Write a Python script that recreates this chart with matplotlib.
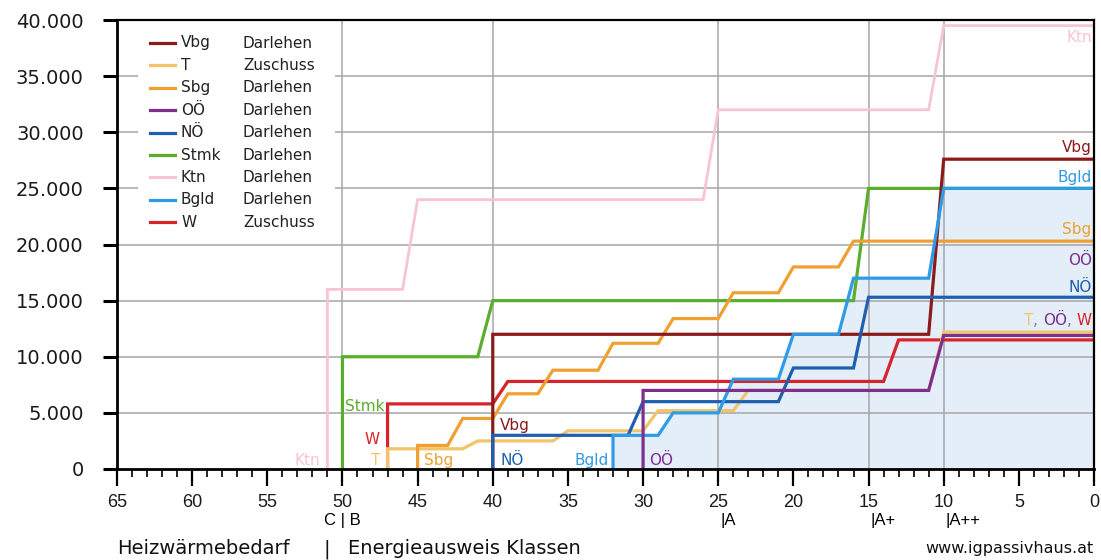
import matplotlib
matplotlib.use("Agg")
import matplotlib.pyplot as plt
from matplotlib.ticker import MultipleLocator, FixedLocator
import matplotlib.transforms as mtransforms

plt.rcParams['font.family'] = ['DejaVu Sans']

# ---------------- data ----------------
names = ["Vbg", "T", "Sbg", "OÖ", "NÖ", "Stmk", "Ktn", "Bgld", "W"]
kinds = ["Darlehen", "Zuschuss", "Darlehen", "Darlehen", "Darlehen",
         "Darlehen", "Darlehen", "Darlehen", "Zuschuss"]
colors = {"Vbg": "#8B1A1A", "T": "#F2C46A", "Sbg": "#F0A030", "OÖ": "#7E2F8E",
          "NÖ": "#1F5FAF", "Stmk": "#5AAE2E", "Ktn": "#F7C5D2", "Bgld": "#2E9BE6",
          "W": "#D7232A"}

# HWB (kWh/m²a) vs. funding amount (EUR)
vbg_x = [40, 40, 11, 10, 0]
vbg_y = [0, 12000, 12000, 27600, 27600]
t_x = [47, 47, 42, 41, 36, 35, 30, 29, 24, 23, 11, 10, 0]
t_y = [0, 1800, 1800, 2500, 2500, 3400, 3400, 5200, 5200, 7000, 7000, 12200, 12200]
sbg_x = [45, 45, 43, 42, 40, 39, 37, 36, 33, 32, 29, 28, 25, 24, 21, 20, 17, 16, 0]
sbg_y = [0, 2100, 2100, 4500, 4500, 6700, 6700, 8800, 8800, 11200, 11200, 13400,
         13400, 15700, 15700, 18000, 18000, 20300, 20300]
ooe_x = [30, 30, 11, 10, 0]
ooe_y = [0, 7000, 7000, 11900, 11900]
noe_x = [40, 40, 31, 30, 21, 20, 16, 15, 0]
noe_y = [0, 3000, 3000, 6000, 6000, 9000, 9000, 15300, 15300]
stmk_x = [50, 50, 41, 40, 16, 15, 0]
stmk_y = [0, 10000, 10000, 15000, 15000, 25000, 25000]
ktn_x = [51, 51, 46, 45, 26, 25, 11, 10, 0]
ktn_y = [0, 16000, 16000, 24000, 24000, 32000, 32000, 39500, 39500]
bgld_x = [32, 32, 29, 28, 25, 24, 21, 20, 17, 16, 11, 10, 0]
bgld_y = [0, 3000, 3000, 5000, 5000, 8000, 8000, 12000, 12000, 17000, 17000, 25000, 25000]
w_x = [47, 47, 40, 39, 14, 13, 0]
w_y = [0, 5800, 5800, 7800, 7800, 11500, 11500]

series = {"Vbg": (vbg_x, vbg_y), "T": (t_x, t_y), "Sbg": (sbg_x, sbg_y),
          "OÖ": (ooe_x, ooe_y), "NÖ": (noe_x, noe_y), "Stmk": (stmk_x, stmk_y),
          "Ktn": (ktn_x, ktn_y), "Bgld": (bgld_x, bgld_y), "W": (w_x, w_y)}

y_ticks = [0, 5000, 10000, 15000, 20000, 25000, 30000, 35000, 40000]
y_tick_labels = ["0", "5.000", "10.000", "15.000", "20.000", "25.000",
                 "30.000", "35.000", "40.000"]
x_ticks = [65, 60, 55, 50, 45, 40, 35, 30, 25, 20, 15, 10, 5, 0]
class_bounds = [50, 40, 25, 15, 10]
class_labels = [(50, "C | B", "center"), (25, "|A", "left"), (15, "|A+", "left"),
                (10, "|A++", "left")]

# ---------------- figure ----------------
W, H = 1101, 560
fig = plt.figure(figsize=(W / 100, H / 100), dpi=100)
L, R, T_, B_ = 117, 1094, 20, 469
ax = fig.add_axes([L / W, 1 - B_ / H, (R - L) / W, (B_ - T_) / H])
ax.set_xlim(65, 0)
ax.set_ylim(0, 40000)

# gridlines
for yv in y_ticks[1:-1]:
    ax.axhline(yv, color="#A6A6A6", lw=1.1, zorder=0.5)
for xv in class_bounds:
    ax.axvline(xv, color="#A6A6A6", lw=1.1, zorder=0.5)

# fill under Bgld
ax.fill_between(bgld_x, bgld_y, 0, color="#E4EEF8", lw=0, zorder=0.3)

# lines
draw_order = ["Ktn", "Stmk", "W", "T", "Sbg", "Vbg", "NÖ", "Bgld", "OÖ"]
for i, n in enumerate(draw_order):
    xs, ys = series[n]
    lw = 2.0 if n == "Ktn" else 2.3
    ax.plot(xs, ys, color=colors[n], lw=lw, solid_joinstyle="miter",
            solid_capstyle="butt", zorder=2 + i, clip_on=False)

# axes styling
for s in ["top", "right"]:
    ax.spines[s].set_linewidth(1.6)
ax.spines["left"].set_linewidth(2.0)
ax.spines["bottom"].set_linewidth(2.0)
for s in ax.spines.values():
    s.set_color("black")
    s.set_zorder(20)

ax.yaxis.set_major_locator(FixedLocator(y_ticks))
ax.set_yticklabels(y_tick_labels)
ax.tick_params(axis="y", which="major", length=10, width=2.2, pad=14,
               labelsize=14, direction="out", labelcolor="#1a1a1a")
ax.xaxis.set_major_locator(FixedLocator(x_ticks))
ax.xaxis.set_minor_locator(MultipleLocator(1))
ax.set_xticklabels([str(v) for v in x_ticks])
ax.tick_params(axis="x", which="major", length=12, width=1.6, pad=6,
               labelsize=13, direction="out", labelcolor="#1a1a1a")
ax.tick_params(axis="x", which="minor", length=6, width=1.2, direction="out")
for lab in ax.get_xticklabels():
    lab.set_family(["Liberation Sans Narrow", "Liberation Sans"])

# legend (manual, two text columns)
px2ax_x = lambda px: (px - L) / (R - L)
px2ax_y = lambda py: (B_ - py) / (B_ - T_)
ax.add_patch(plt.Rectangle((px2ax_x(138), px2ax_y(232)), px2ax_x(335) - px2ax_x(138),
                           px2ax_y(28) - px2ax_y(232), transform=ax.transAxes,
                           facecolor="white", edgecolor="none", zorder=1))
for i, (n, k) in enumerate(zip(names, kinds)):
    yy = px2ax_y(43 + 22.4 * i)
    ax.plot([px2ax_x(150), px2ax_x(175)], [yy, yy], transform=ax.transAxes,
            color=colors[n], lw=2.3, zorder=30)
    ax.text(px2ax_x(181), yy, n, transform=ax.transAxes, fontsize=11,
            va="center", ha="left", color="#222222", zorder=30)
    ax.text(px2ax_x(243), yy, k, transform=ax.transAxes, fontsize=11,
            va="center", ha="left", color="#222222", zorder=30)

# labels at the right edge
fs = 11
right_labels = [("Ktn", 38400), ("Vbg", 28600), ("Bgld", 26000), ("Sbg", 21300),
                ("OÖ", 18600), ("NÖ", 16200)]
for n, yv in right_labels:
    ax.text(0.15, yv, n, color=colors[n], fontsize=fs, ha="right", va="center", zorder=30)
tw = ax.text(0.15, 13200, "W", color=colors["W"], fontsize=fs, ha="right", va="center", zorder=30)
tc2 = ax.annotate(", ", xy=(0, 0.5), xycoords=tw, color="#8A6A8A", fontsize=fs,
                  ha="right", va="center", zorder=30)
to = ax.annotate("OÖ", xy=(0, 0.5), xycoords=tc2, color=colors["OÖ"], fontsize=fs,
                 ha="right", va="center", zorder=30)
tc1 = ax.annotate(", ", xy=(0, 0.5), xycoords=to, color="#888888", fontsize=fs,
                  ha="right", va="center", zorder=30)
ax.annotate("T", xy=(0, 0.5), xycoords=tc1, color=colors["T"], fontsize=fs,
            ha="right", va="center", zorder=30)

# labels at the bottom start of lines
bottom_labels = [("Ktn", 51.5, 800, "right"), ("T", 47.5, 800, "right"),
                 ("Sbg", 44.6, 800, "left"), ("NÖ", 39.5, 800, "left"),
                 ("Bgld", 32.3, 800, "right"), ("OÖ", 29.6, 800, "left"),
                 ("Stmk", 49.8, 5600, "left"), ("W", 47.5, 2600, "right"),
                 ("Vbg", 39.5, 3900, "left")]
for n, xv, yv, ha in bottom_labels:
    ax.text(xv, yv, n, color=colors[n], fontsize=fs, ha=ha, va="center", zorder=30)

# energy class labels under the axis
trans = mtransforms.blended_transform_factory(ax.transData, ax.transAxes)
for xv, txt, ha in class_labels:
    off = -0.15 if ha == "left" else 0
    ax.text(xv + off, px2ax_y(520), txt, transform=trans, fontsize=12, ha=ha,
            va="center", family=["Liberation Sans Narrow", "Liberation Sans"])

# footer
fy = 1 - 549 / H
fig.text(117 / W, fy, "Heizwärmebedarf", fontsize=14, ha="left", va="center", color="#111111")
fig.text(327 / W, fy, "|", fontsize=14, ha="center", va="center", color="#111111")
fig.text(348 / W, fy, "Energieausweis Klassen", fontsize=14, ha="left", va="center",
         color="#111111")
fig.text(1094 / W, fy, "www.igpassivhaus.at", fontsize=11.5, ha="right",
         va="center", color="#111111")

fig.savefig("out.png", dpi=100)
